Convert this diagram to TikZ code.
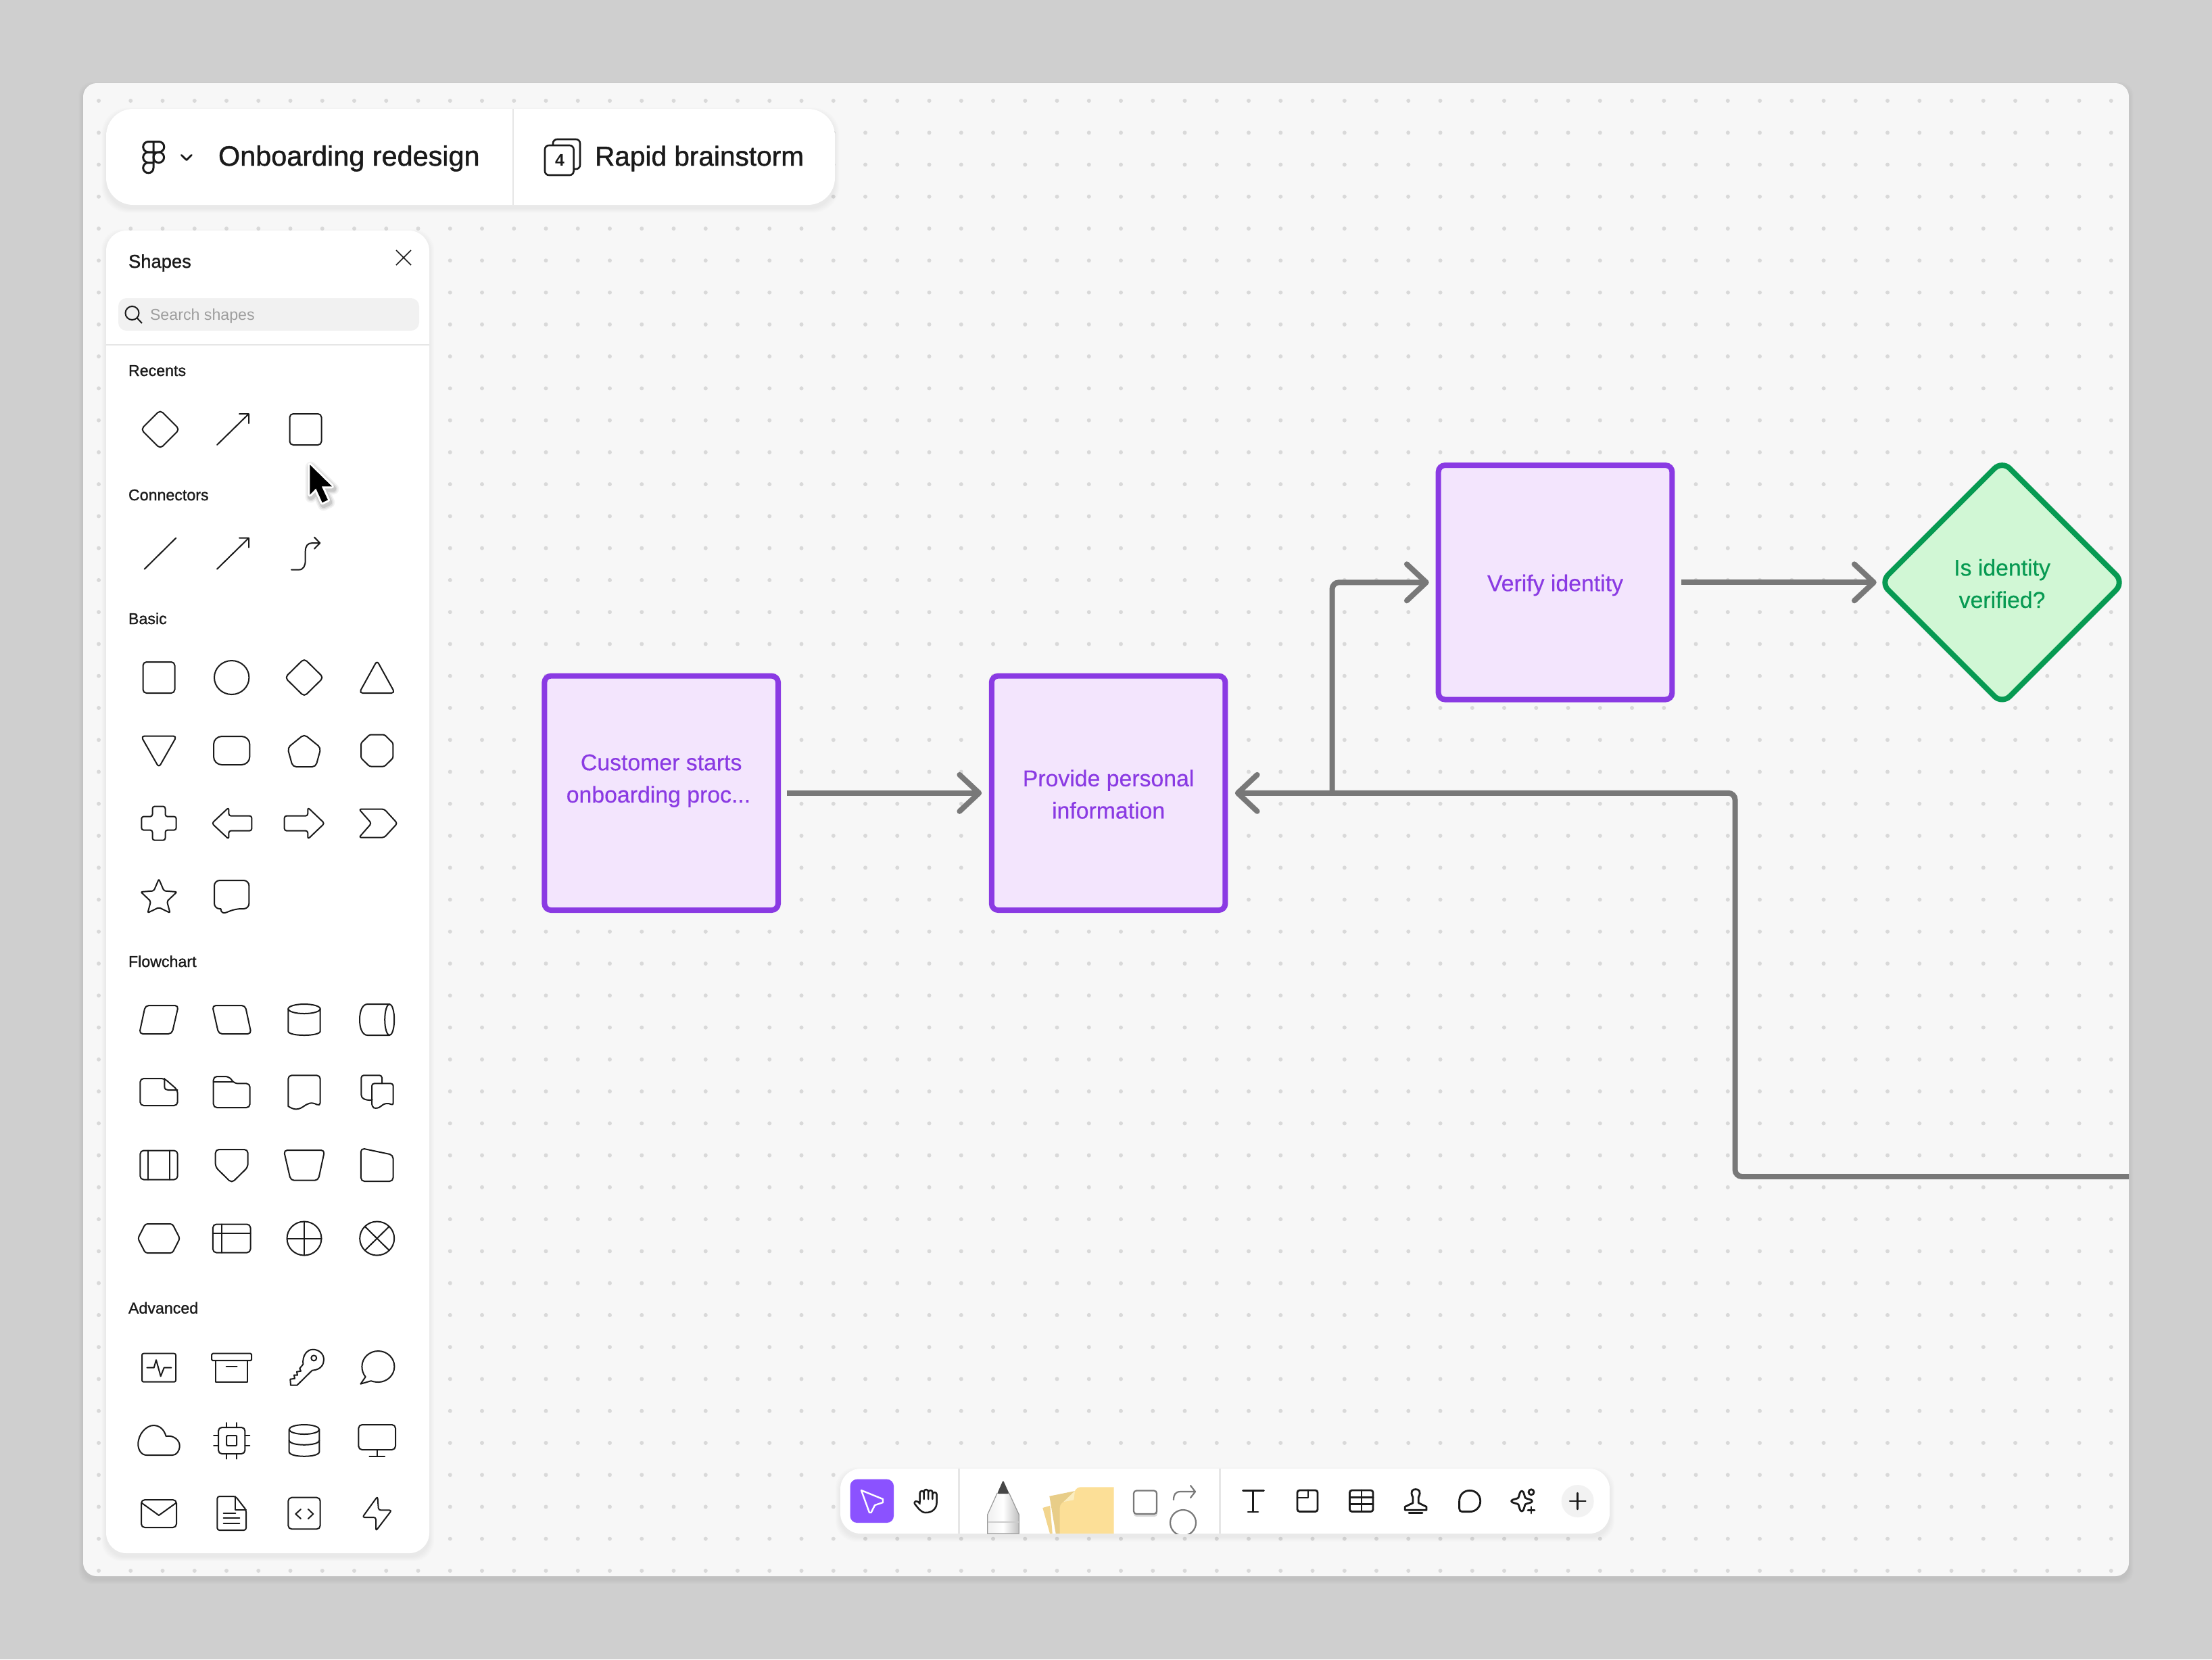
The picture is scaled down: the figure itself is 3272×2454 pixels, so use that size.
\documentclass[tikz,border=0pt]{standalone}
\usepackage{fontspec}
\setmainfont{Liberation Sans}
\newfontfamily\medf[FakeBold=1.1]{Liberation Sans}
\newfontfamily\flowf[FakeBold=0.4]{Liberation Sans}
\usetikzlibrary{arrows.meta,shapes.geometric}
\definecolor{bgc}{HTML}{CFCFCF}
\definecolor{canvasc}{HTML}{F7F7F7}
\definecolor{dotc}{HTML}{D9D9D9}
\definecolor{inkc}{HTML}{1A1A1A}
\definecolor{rulec}{HTML}{E6E6E6}
\definecolor{purpc}{HTML}{8A3AE3}
\definecolor{purpf}{HTML}{F3E5FD}
\definecolor{greenc}{HTML}{079A52}
\definecolor{greenf}{HTML}{D1F7D5}
\definecolor{connc}{HTML}{787878}
\definecolor{toolc}{HTML}{8B52FF}
\definecolor{stickyc}{HTML}{FCDF97}
\definecolor{stickyb}{HTML}{F2D58E}
\definecolor{stickyl}{HTML}{FBEDC0}
\tikzset{
  iconline/.style={draw=inkc,line width=0.5pt,line join=round,line cap=round},
  rc/.style={rounded corners=1.3pt},
  toolline/.style={draw=inkc,line width=0.7pt,line join=round,line cap=round},
  panel/.style={fill=white},
  flowbox/.style={rectangle,draw=purpc,fill=purpf,line width=2pt,rounded corners=2.4pt,minimum width=86.4pt,minimum height=86.6pt,inner sep=0pt,outer sep=0pt,text=purpc,align=center,font=\medfflow},
  decisionbox/.style={diamond,aspect=1,draw=greenc,fill=greenf,line width=2pt,rounded corners=4pt,minimum width=89.9pt,minimum height=89.9pt,inner sep=0pt,outer sep=0pt,text=greenc,align=center,font=\medfflow},
  conn/.style={draw=connc,line width=2pt,rounded corners=2.5pt,-{Straight Barb[length=7.2pt,width=13.5pt,round]}},
  lab/.style={inner sep=0pt,outer sep=0pt,anchor=base west,text=inkc},
  seclab/.style={lab,font=\medf\fontsize{5.8}{7}\selectfont},
}
\newcommand{\medfflow}{\flowf\fontsize{8.45}{11.9}\selectfont}
\newcommand{\lift}[1]{\rule{0pt}{#1pt}}
\newcommand{\ic}[3]{\begin{scope}[shift={(#1,#2)},iconline]#3\end{scope}}
\newcommand{\softshadow}[6]{\foreach \s in {1,...,7}{\fill[black,opacity=#6,rounded corners=#5] ({#1-\s},{#2-\s+5}) rectangle ({#3+\s},{#4+\s+5});}}
\def\colA{235}\def\colB{342.7}\def\colC{450}\def\colD{557.7}
\begin{document}
\begin{tikzpicture}[x=0.25pt,y=-0.25pt]
\useasboundingbox (0,0) rectangle (3272,2454);
\fill[bgc] (0,0) rectangle (3272,2454);
\softshadow{123}{123}{3149}{2331}{5pt}{0.009}
\fill[canvasc,rounded corners=5pt] (123,123) rectangle (3149,2331);
\fill[dotc] \foreach \i in {0,...,63}{\foreach \j in {0,...,46}{ ({146+47.25*\i},{149+47.26*\j}) circle[radius=3] }};

% header panel
\softshadow{157}{161}{1235}{303}{10pt}{0.007}
\node[panel,rectangle,rounded corners=10pt,minimum width=269.5pt,minimum height=35.5pt,inner sep=0pt,outer sep=0pt] (header) at (696,232) {};
\coordinate (hdtop) at (759,161);
\coordinate (hdbot) at (759,303);
\draw[rulec,line width=0.6pt] (hdtop) -- (hdbot);
\begin{scope}[draw=inkc,line width=0.75pt,line join=round]
 \draw (227,209.5) -- (219.5,209.5) .. controls (215.2,209.5) and (211.7,213) .. (211.7,217.3) .. controls (211.7,221.6) and (215.2,225) .. (219.5,225) -- (227,225) -- cycle;
 \draw (227,209.5) -- (235,209.5) .. controls (239.3,209.5) and (242.8,213) .. (242.8,217.3) .. controls (242.8,221.6) and (239.3,225) .. (235,225) -- (227,225);
 \draw (227,225) -- (219.5,225) .. controls (215.2,225) and (211.7,228.5) .. (211.7,232.8) .. controls (211.7,237.1) and (215.2,240.5) .. (219.5,240.5) -- (227,240.5) -- cycle;
 \draw (234.8,232.8) circle[radius=7.8];
 \draw (227,240.5) -- (219.5,240.5) .. controls (215.2,240.5) and (211.7,244) .. (211.7,248.2) .. controls (211.7,252.5) and (215.2,255.8) .. (219.5,255.8) .. controls (223.8,255.8) and (227,252.5) .. (227,248.2) -- cycle;
\end{scope}
\draw[inkc,line width=0.7pt,line cap=round,line join=round] (268.3,229.3) -- (276,236.7) -- (283.3,229.3);
\node[lab,font=\medf\fontsize{10.35}{12}\selectfont] (title1) at (323,245) {Onboarding redesign};
\draw[inkc,line width=0.65pt,rounded corners=1.5pt] (818,206) rectangle (858,250);
\draw[inkc,fill=white,line width=0.65pt,rounded corners=1.5pt] (806,215) rectangle (848.6,259);
\node[inner sep=0pt,outer sep=0pt,text=inkc,font=\bfseries\fontsize{6.2}{7}\selectfont] (four) at (828,237) {4};
\node[lab,font=\medf\fontsize{10.15}{12}\selectfont] (title2) at (880,245) {Rapid brainstorm};

% shapes panel
\softshadow{157}{341}{635}{2297}{7.5pt}{0.007}
\node[panel,rectangle,rounded corners=7.5pt,minimum width=119.5pt,minimum height=489pt,inner sep=0pt,outer sep=0pt] (shapes) at (396,1319) {};
\node[lab,font=\medf\fontsize{6.85}{8}\selectfont] (shapeslab) at (190,396) {Shapes};
\draw[inkc,line width=0.42pt] (586,370) -- (608,392) (608,370) -- (586,392);
\fill[rulec!55!white,rounded corners=3pt] (175,441) rectangle (620,489);
\draw[inkc,line width=0.5pt] (195.5,463) circle[radius=10] (203,470.5) -- (210,478);
\node[lab,text=black!38,font=\fontsize{5.8}{7}\selectfont] (searchlab) at (222,473.5) {Search shapes};
\draw[rulec,line width=0.5pt] (157,510) -- (635,510);

\node[seclab] (rec) at (190,556) {Recents};
\node[seclab] (con) at (190,740) {Connectors};
\node[seclab] (bas) at (190,923) {Basic};
\node[seclab] (flo) at (190,1430) {Flowchart};
\node[seclab] (adv) at (190,1942.5) {Advanced};

% Recents
\ic{237}{635}{\draw[rc] (0,-28.5) -- (28.5,0) -- (0,28.5) -- (-28.5,0) -- cycle;}
\ic{344.5}{635}{\draw (-23.5,23) -- (23.5,-23) (9.5,-23) -- (23.5,-23) -- (23.5,-9);}
\ic{452}{635}{\draw[rc] (-23.5,-23) rectangle (23.5,23);}
% cursor
\foreach \w/\o in {4.2/0.05,3.2/0.07,2.2/0.1}{\draw[black,opacity=\o,line width=\w pt,line join=round] (460,691) -- (460,735) -- (469,726) -- (478.5,747) -- (487,743) -- (477.5,723) -- (493,723) -- cycle;}
\draw[white,line width=1.5pt,fill=black,line join=round] (458.3,687.3) -- (458.3,731.7) -- (467.3,722.3) -- (476.7,743.3) -- (485,739.3) -- (475.7,719.3) -- (491,719.3) -- cycle;
\fill[black] (458.3,687.3) -- (458.3,731.7) -- (467.3,722.3) -- (476.7,743.3) -- (485,739.3) -- (475.7,719.3) -- (491,719.3) -- cycle;
% Connectors
\ic{237}{818.6}{\draw (-23.3,23) -- (23.3,-23);}
\ic{344.5}{818.6}{\draw (-23.5,23) -- (23.5,-23) (9.5,-23) -- (23.5,-23) -- (23.5,-9);}
\ic{452}{818.6}{\draw (-21,24) -- (-10,24) .. controls (-3,24) and (-0.3,18) .. (-0.3,10) -- (-0.3,-3) .. controls (-0.3,-11) and (3,-15.6) .. (10,-15.6) -- (21.3,-15.6) (13,-24) -- (21.3,-15.6) -- (13,-7);}
% Basic 1
\ic{\colA}{1002}{\draw[rc] (-23.5,-23) rectangle (23.5,23);}
\ic{\colB}{1002}{\draw (0,0) ellipse[x radius=25.7,y radius=25];}
\ic{\colC}{1002}{\draw[rc] (0,-28) -- (28.5,0) -- (0,28) -- (-28.5,0) -- cycle;}
\ic{\colD}{1002}{\draw[rc] (0,-25) -- (26.5,23) -- (-26.5,23) -- cycle;}
% Basic 2
\ic{\colA}{1110}{\draw[rc] (-26.5,-21.5) -- (26.5,-21.5) -- (0,25) -- cycle;}
\ic{\colB}{1110}{\draw[rounded corners=3pt] (-26.7,-21) rectangle (26.7,21);}
\ic{\colC}{1110}{\draw[rc] (0,-24) -- (24.7,-4) -- (17,24) -- (-17,24) -- (-24.7,-4) -- cycle;}
\ic{\colD}{1110}{\draw[rounded corners=0.6pt] (-11,-23.5) -- (11,-23.5) -- (23.7,-11) -- (23.7,11) -- (11,23.5) -- (-11,23.5) -- (-23.7,11) -- (-23.7,-11) -- cycle;}
% Basic 3
\ic{\colA}{1217.6}{\draw[rounded corners=0.8pt] (-9.5,-25) -- (9.5,-25) -- (9.5,-10) -- (25.7,-10) -- (25.7,10) -- (9.5,10) -- (9.5,25) -- (-9.5,25) -- (-9.5,10) -- (-25.7,10) -- (-25.7,-10) -- (-9.5,-10) -- cycle;}
\ic{\colB}{1217.6}{\draw[rounded corners=0.8pt] (-29.3,0) -- (-4.3,-23.5) -- (-4.3,-11) -- (29.7,-11) -- (29.7,11) -- (-4.3,11) -- (-4.3,23.5) -- cycle;}
\ic{\colC}{1217.6}{\draw[rounded corners=0.8pt] (30,0) -- (5.3,-23.5) -- (5.3,-11) -- (-29.3,-11) -- (-29.3,11) -- (5.3,11) -- (5.3,23.5) -- cycle;}
\ic{\colD}{1217.6}{\draw[rounded corners=0.8pt] (-26.7,-21) -- (10.7,-21) -- (30,0) -- (10.7,21) -- (-26.7,21) -- (-8.3,0) -- cycle;}
% Basic 4
\ic{\colA}{1325}{\draw[rounded corners=0.5pt] (0,-25) -- (7.5,-7.5) -- (26.7,-6) -- (12,8) -- (16.5,25) -- (0,17) -- (-16.5,25) -- (-12,8) -- (-26.7,-6) -- (-7.5,-7.5) -- cycle;}
\ic{\colB}{1325}{\draw[rounded corners=2pt] (-25.7,-23) -- (25.7,-23) -- (25.7,19) -- (6,19) -- (-16,27.5) [sharp corners] -- (-16,19) [rounded corners=2pt] -- (-25.7,19) -- cycle;}
% Flowchart 1
\ic{\colA}{1508}{\draw[rc] (-20,-21) -- (29,-21) -- (19.3,21) -- (-29,21) -- cycle;}
\ic{\colB}{1508}{\draw[rc] (-28.7,-21) -- (20,-21) -- (29,21) -- (-19.3,21) -- cycle;}
\ic{\colC}{1508}{\draw (-23.7,-16) -- (-23.7,17) .. controls (-23.7,25) and (23.7,25) .. (23.7,17) -- (23.7,-16); \draw (0,-16) ellipse[x radius=23.7,y radius=7];}
\ic{\colD}{1508}{\draw (18.5,-23) -- (-14,-23) .. controls (-22,-23) and (-25.7,-12) .. (-25.7,0) .. controls (-25.7,12) and (-22,23) .. (-14,23) -- (18.5,23); \draw (18.5,0) ellipse[x radius=7,y radius=23];}
% Flowchart 2
\ic{\colA}{1615}{\draw[rc] (-27.7,-20) -- (8.3,-20) -- (27.7,-3) -- (27.7,20) -- (-27.7,20) -- cycle; \draw (8.3,-20) -- (8.3,-8) .. controls (8.3,-4) and (11,-3) .. (14,-3) -- (27.7,-3);}
\ic{\colB}{1615}{\draw[rc] (-27,-23) -- (-4,-23) -- (4,-12.6) -- (27,-12.6) -- (27,23) -- (-27,23) -- cycle; \draw (-27,-15) -- (2,-15);}
\ic{\colC}{1615}{\draw[rc] (-23.7,-24.7) -- (23.7,-24.7) -- (23.7,21) [sharp corners] .. controls (10,14) and (5,17) .. (-2,22) .. controls (-10,27) and (-16,26) .. (-23.7,21) [rc] -- cycle;}
\ic{\colD}{1615}{\draw[rounded corners=0.9pt] (-7,11.5) .. controls (-12,13) and (-18,11) .. (-23.3,8) -- (-23.3,-24.7) -- (7.3,-24.7) -- (7.3,-12.6); \draw[rounded corners=0.9pt] (-7.7,-12.6) -- (24,-12.6) -- (24,20) .. controls (17,16) and (11,17) .. (6,21) .. controls (1,24) and (-4,24) .. (-7.7,21) -- cycle;}
% Flowchart 3
\ic{\colA}{1723}{\draw[rc] (-27.7,-21.5) rectangle (27.7,21.5); \draw (-15.7,-21.5) -- (-15.7,21.5) (15.7,-21.5) -- (15.7,21.5);}
\ic{\colB}{1723}{\draw[rc] (-24,-23) -- (24,-23) -- (24,3) -- (0,26.5) -- (-24,3) -- cycle;}
\ic{\colC}{1723}{\draw[rc] (-30.3,-22) -- (30.3,-22) -- (20.7,22.7) -- (-20,22.7) -- cycle;}
\ic{\colD}{1723}{\draw[rc] (-23.8,-25) -- (23.8,-15) -- (23.8,24) -- (-23.8,24) -- cycle;}
% Flowchart 4
\ic{\colA}{1831.5}{\draw[rounded corners=0.8pt] (-20,-21.5) -- (20,-21.5) -- (31,0) -- (20,21.5) -- (-20,21.5) -- (-31,0) -- cycle;}
\ic{\colB}{1831.5}{\draw[rc] (-27.8,-21) rectangle (27.8,21); \draw (-14.3,-21) -- (-14.3,21) (-27.8,-7.5) -- (27.8,-7.5);}
\ic{\colC}{1831.5}{\draw (0,0) ellipse[x radius=25.5,y radius=25]; \draw (-25.5,0) -- (25.5,0) (0,-25) -- (0,25);}
\ic{\colD}{1831.5}{\draw (0,0) ellipse[x radius=25.5,y radius=25]; \draw (-18,-17.7) -- (18,17.7) (18,-17.7) -- (-18,17.7);}
% Advanced 1
\ic{\colA}{2022.7}{\draw[rounded corners=0.6pt] (-25,-21) rectangle (25,21); \draw (-17.7,0) -- (-7.3,0) -- (-4,-11.5) -- (2.7,12.6) -- (7.7,0) -- (18.3,0);}
\ic{\colB}{2022.7}{\draw[rounded corners=0.4pt] (-29.5,-21) rectangle (29.5,-10.5); \draw (-23.7,-10.5) -- (-23.7,21) -- (23.7,21) -- (23.7,-10.5); \draw (-8,-2) -- (8,-2);}
\ic{\colC}{2022.7}{\draw (11.7,4) .. controls (25,3) and (29,-5) .. (29,-12) .. controls (29,-22) and (20,-27) .. (13,-27) .. controls (4,-27) and (-3,-18) .. (-1.7,-5) -- (-6.7,1) -- (-5,5) -- (-11,6) -- (-10,11) -- (-15,11) -- (-14,16) -- (-20.7,17) -- (-20,26) -- (-10.7,26) -- cycle; \draw (14.3,-14.3) circle[radius=4];}
\ic{\colD}{2022.7}{\draw (-9,19.5) .. controls (-4,21) and (-1,21.3) .. (1.7,21.3) .. controls (15,21.3) and (25.7,11) .. (25.7,-1.7) .. controls (25.7,-14.5) and (15,-24.7) .. (1.7,-24.7) .. controls (-11.5,-24.7) and (-22.3,-14.5) .. (-22.3,-1.7) .. controls (-22.3,4) and (-20.5,9.5) .. (-17,13.5) -- (-24.3,24) -- cycle;}
% Advanced 2
\ic{\colA}{2130}{\draw (-18,22) .. controls (-26,22) and (-30.7,14) .. (-30.7,6) .. controls (-30.7,-10) and (-18,-22) .. (-8,-22) .. controls (2,-22) and (8,-15) .. (10.5,-6) .. controls (22,-8) and (30.7,0) .. (30.7,8) .. controls (30.7,16) and (26,22) .. (20,22) -- cycle;}
\ic{\colB}{2130}{\draw[rc] (-19.7,-19) rectangle (19.7,20); \draw[rounded corners=0.3pt] (-7.5,-7) rectangle (7.5,8); \draw (-7.5,-26) -- (-7.5,-19) (7.5,-26) -- (7.5,-19) (-7.5,20) -- (-7.5,27.5) (7.5,20) -- (7.5,27.5) (-26.7,-7) -- (-19.7,-7) (-26.7,7.5) -- (-19.7,7.5) (19.7,-7) -- (26.7,-7) (19.7,7.5) -- (26.7,7.5);}
\ic{\colC}{2130}{\draw (-22.3,-16) -- (-22.3,17) .. controls (-22.3,26) and (22.3,26) .. (22.3,17) -- (22.3,-16); \draw (0,-16) ellipse[x radius=22.3,y radius=7]; \draw (-22.3,0) .. controls (-22.3,9) and (22.3,9) .. (22.3,0);}
\ic{\colD}{2130}{\draw[rc] (-27.3,-23) rectangle (27.3,14); \draw (0,14) -- (0,24) (-11.3,24) -- (11.3,24);}
% Advanced 3
\ic{\colA}{2238}{\draw[rc] (-26,-20) rectangle (26,21); \draw (-25,-15) -- (0,3) -- (25,-15);}
\ic{\colB}{2238}{\draw[rounded corners=0.8pt] (-21.3,-25) -- (5.7,-25) -- (21.3,-5) -- (21.3,25) -- (-21.3,25) -- cycle; \draw (5.7,-25) -- (5.7,-5) -- (21.3,-5); \draw (-12,0) -- (5.7,0) (-12,7) -- (11.7,7) (-12,15) -- (11.7,15);}
\ic{\colC}{2238}{\draw[rc] (-23.7,-23.3) rectangle (23.7,23.3); \draw (-5,-6) -- (-12.7,1) -- (-5,8) (5.9,-6) -- (13.3,1) -- (5.9,8);}
\ic{\colD}{2238}{\draw[rounded corners=0.8pt] (0.7,-25) -- (-21.7,6) -- (-1.7,6) -- (-1.7,26) -- (21.7,-4.6) -- (2.3,-4.6) -- cycle;}

% flow nodes
\node[flowbox] (box1) at (978.2,1172.8) {\lift{7.0}Customer starts\\onboarding proc...\kern2.1pt\\\mbox{}};
\node[flowbox] (box2) at (1639.6,1172.8) {\lift{7.0}Provide personal\\information};
\node[flowbox] (box3) at (2300.5,861.3) {\lift{8.2}Verify identity};
\node[decisionbox] (decision) at (2961.5,861.3) {\lift{7.0}Is identity\\verified?};
\coordinate (offcanvas) at (3149,1740);
\coordinate (cornerA) at (2566.5,1740);
\coordinate (cornerB) at (2566.5,1172.8);
\coordinate (junction) at (1970.5,1172.8);
\draw[conn] ([xshift=3.15pt]box1.east) -- ([xshift=-3.65pt]box2.west);
\draw[conn] ([xshift=3.5pt]box3.east) -- ([xshift=-1.5pt]decision.west);
\draw[conn] (offcanvas) -- (cornerA) -- (cornerB) -- ([xshift=3.6pt]box2.east);
\draw[conn] (junction) |- ([xshift=-3.5pt]box3.west);

% toolbar
\softshadow{1243}{2172}{2381}{2268}{7.5pt}{0.007}
\node[panel,rectangle,rounded corners=7.5pt,minimum width=284.5pt,minimum height=24pt,inner sep=0pt,outer sep=0pt] (toolbar) at (1812,2220) {};
\draw[rulec,line width=0.6pt] (1418.6,2172) -- (1418.6,2268) (1804.6,2172) -- (1804.6,2268);
\fill[toolc,rounded corners=2.5pt] (1257.6,2187.7) rectangle (1322,2252);
\draw[white,line width=0.6pt,line join=round] (1274,2204) -- (1306,2217) -- (1306,2222) -- (1294,2226) -- (1288.5,2237) -- (1286,2237) -- cycle;
\begin{scope}
 \draw[inkc,line width=0.62pt,line join=round,line cap=round] (1360.7,2222) -- (1360.7,2208) .. controls (1360.7,2204) and (1366.7,2204) .. (1366.7,2208) -- (1366.7,2217) (1366.7,2208) -- (1366.7,2206) .. controls (1366.7,2202) and (1373.2,2202) .. (1373.2,2206) -- (1373.2,2217) (1373.2,2207) .. controls (1373.2,2203) and (1379.4,2203) .. (1379.4,2207) -- (1379.4,2217) (1379.4,2210) .. controls (1379.4,2206) and (1385.6,2206) .. (1385.6,2210) -- (1385.6,2222) .. controls (1385.6,2231) and (1379,2237) .. (1369.5,2237) .. controls (1362,2237) and (1358,2230) .. (1353,2224) .. controls (1351,2221) and (1356,2217) .. (1360.7,2224);
\end{scope}
% pen
\path[left color=black!6,right color=black!25,middle color=white,draw=black!40,line width=0.3pt] (1475,2208.3) -- (1492.7,2208.3) -- (1507.3,2240) -- (1507.3,2268) -- (1460.7,2268) -- (1460.7,2240) -- cycle;
\fill[black!72,rounded corners=0.6pt] (1483.8,2189) -- (1492.9,2209) -- (1475,2209) -- cycle;
\draw[black!20,line width=0.45pt] (1460.7,2251.3) -- (1507.3,2251.3);
% sticky note
\fill[stickyb] (1542.3,2230) -- (1553.3,2226.7) -- (1556.7,2268) -- (1553,2268) -- cycle;
\fill[stickyb!96!black] (1552.3,2212.7) -- (1590,2205) -- (1567.7,2268) -- (1561.7,2268) -- cycle;
\fill[stickyc] (1567.7,2268) -- (1567.7,2230) .. controls (1568,2224) and (1572,2222) .. (1573.3,2221) -- (1590,2205) .. controls (1592,2201) and (1595,2199.3) .. (1599,2199.3) -- (1647.7,2199.3) -- (1647.7,2268) -- cycle;
\fill[stickyl] (1590,2205) -- (1573.3,2221) -- (1588.3,2218.3) -- cycle;
% shape tool
\fill[black,opacity=0.15,rounded corners=1pt] (1677,2208) rectangle (1712,2243);
\draw[connc,fill=white,line width=0.55pt,rounded corners=1pt] (1677,2204.5) rectangle (1711,2239);
\draw[connc,line width=0.55pt,line cap=round,line join=round] (1736,2218) .. controls (1736,2210) and (1739,2206) .. (1746,2206) -- (1768,2206) (1761,2197) -- (1768,2206) -- (1761,2215);
\begin{scope}
 \clip (1720,2225) rectangle (1780,2268);
 \draw[connc,fill=white,line width=0.55pt] (1750,2252) circle[radius=19];
\end{scope}
% right tools
\draw[toolline] (1838.5,2204.5) -- (1869.5,2204.5) (1853.6,2204.5) -- (1853.6,2236) (1846,2236) -- (1861,2236);
\draw[toolline,rounded corners=0.8pt] (1919,2204) rectangle (1949,2235.4);
\draw[toolline] (1919,2215) -- (1935,2215) -- (1935,2204);
\draw[toolline,rounded corners=0.8pt] (1996.5,2204) rectangle (2031,2235.4);
\draw[toolline] (1996.5,2214.3) -- (2031,2214.3) (1996.5,2224.7) -- (2031,2224.7) (2014,2204) -- (2014,2235.4);
\draw[toolline] (2090,2214.3) .. controls (2085,2205) and (2090,2202.5) .. (2094,2202.5) .. controls (2098,2202.5) and (2103,2205) .. (2098.3,2214.3) -- (2098.3,2222.7) -- (2110,2228.3) -- (2110,2233.3) -- (2078.3,2233.3) -- (2078.3,2228.3) -- (2090,2222.7) -- cycle;
\draw[toolline] (2084,2237.3) -- (2104,2237.3);
\draw[toolline] (2158.6,2220) .. controls (2158.6,2211) and (2165,2204.3) .. (2174,2204.3) .. controls (2183,2204.3) and (2189.7,2211) .. (2189.7,2220) .. controls (2189.7,2229) and (2183,2235.6) .. (2174,2235.6) -- (2163,2235.6) .. controls (2160,2235.6) and (2158.6,2234) .. (2158.6,2231) -- cycle;
\begin{scope}[shift={(2251,2220)}]
 \draw[toolline] (0,-15) .. controls (3,-15) and (3.5,-9) .. (5,-5) .. controls (6.5,-3) and (15.5,-3) .. (15.5,0) .. controls (15.5,3) and (6.5,3) .. (5,5) .. controls (3.5,9) and (3,15) .. (0,15) .. controls (-3,15) and (-3.5,9) .. (-5,5) .. controls (-6.5,3) and (-15.5,3) .. (-15.5,0) .. controls (-15.5,-3) and (-6.5,-3) .. (-5,-5) .. controls (-3.5,-9) and (-3,-15) .. (0,-15) -- cycle;
\end{scope}
\draw[toolline] (2265,2206.7) circle[radius=4];
\draw[toolline] (2260,2233.3) -- (2270,2233.3) (2265,2228.5) -- (2265,2238);
\fill[black!5] (2333.6,2220) circle[radius=24];
\draw[toolline,line width=0.6pt] (2322,2220) -- (2345.5,2220) (2333.6,2208) -- (2333.6,2232);
\end{tikzpicture}
\end{document}
